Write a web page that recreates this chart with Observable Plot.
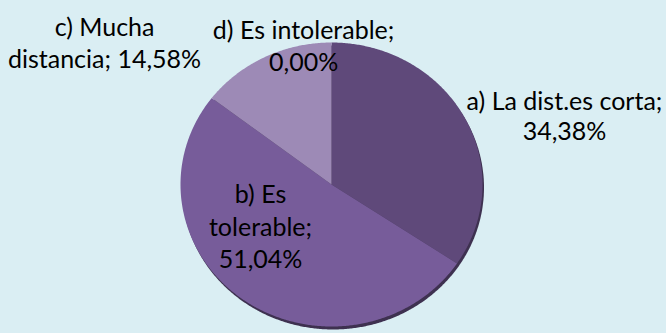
<!DOCTYPE html>
<html>
<head>
<meta charset="utf-8">
<script src="https://cdn.jsdelivr.net/npm/d3@7"></script>
<script src="https://cdn.jsdelivr.net/npm/@observablehq/plot@0.6"></script>
<style>
  html, body { margin: 0; padding: 0; background: #DAEEF3; }
  #chart { width: 666px; height: 333px; overflow: hidden; }
</style>
</head>
<body>
<div id="chart"></div>
<script>
// ---- data ----
const categories = ["a) La dist.es corta", "b) Es tolerable", "c) Mucha distancia", "d) Es intolerable"];
const percents = [34.38, 51.04, 14.58, 0.00];
const labelLines = [
  ["a) La dist.es corta;", "34,38%"],
  ["b) Es", "tolerable;", "51,04%"],
  ["c) Mucha", "distancia; 14,58%"],
  ["d) Es intolerable;", "0,00%"]
];
const colors = ["#5F497A", "#775C9A", "#9D8AB6", "#B3A2C7"];

// ---- layout (label anchors in pie-radius units) ----
const labelAnchors = [
  {x: 1.543, y: 0.486, lh: 1.2},
  {x: -0.470, y: -0.289, lh: 1.3},
  {x: -1.503, y: 1.007, lh: 1.28},
  {x: -0.185, y: 0.986, lh: 1.28}
];

// build slice polygons from values (clockwise from 12 o'clock)
const total = d3.sum(percents);
let acc = 0;
const slices = categories.map((c, i) => {
  const a0 = acc / total * 2 * Math.PI;
  acc += percents[i];
  const a1 = acc / total * 2 * Math.PI;
  const pts = [{x: 0, y: 0}];
  const n = Math.max(2, Math.ceil((a1 - a0) / (Math.PI / 360)));
  for (let k = 0; k <= n; k++) {
    const t = a0 + (a1 - a0) * k / n;
    pts.push({x: Math.sin(t), y: Math.cos(t)});
  }
  pts.push({x: 0, y: 0});
  return {cat: c, value: percents[i], color: colors[i], pts};
}).filter(s => s.value > 0);

const full = [];
for (let k = 0; k <= 720; k++) {
  const t = k / 720 * 2 * Math.PI;
  full.push({x: Math.sin(t), y: Math.cos(t)});
}

const labels = categories.map((c, i) => ({
  text: labelLines[i].join("\n"),
  x: labelAnchors[i].x, y: labelAnchors[i].y, lh: labelAnchors[i].lh
}));

const marks = [
  Plot.line(full, {x: "x", y: "y", fill: "#3E3150", stroke: "none", dx: 1.5, dy: 3, curve: "linear"}),
  ...slices.map(s => Plot.line(s.pts, {x: "x", y: "y", fill: s.color, stroke: "none", curve: "linear"})),
  ...labels.map(l => Plot.text([l], {
    x: "x", y: "y", text: "text", lineAnchor: "middle", lineHeight: l.lh,
    fontSize: 25, fill: "#000000", textAnchor: "middle"
  }))
];

const chart = Plot.plot({
  width: 666,
  height: 333,
  marginLeft: 180,
  marginRight: 184,
  marginTop: 42,
  marginBottom: 7,
  x: {domain: [-1, 1], axis: null},
  y: {domain: [-1, 1], axis: null},
  style: {background: "#DAEEF3", fontFamily: "Lato, 'Open Sans', sans-serif", overflow: "visible"},
  marks
});
document.getElementById("chart").appendChild(chart);
</script>
</body>
</html>
